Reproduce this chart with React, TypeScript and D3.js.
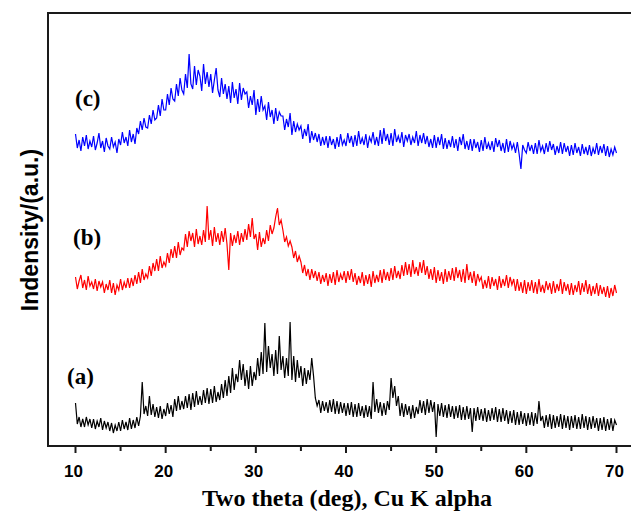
import React from 'react';
import * as d3 from 'd3';

// 2θ from 10° to 70° in 0.2° steps, one row of 5 readings per degree
const twoTheta: number[] = d3.range(301).map(i => 10 + i * 0.2);

// intensity (a.u.), traces offset as plotted
const sampleC: number[] = [
  312,298,306,295,309, 300,311,297,305,299, 310,296,303,313,298, 305,294,308,300,297, 309,299,304,293,307,
  301,314,303,309,300, 316,304,312,302,318, 312,325,316,328,319, 318,331,322,336,326, 328,341,330,347,336,
  336,352,341,358,347, 345,362,350,368,356, 352,372,358,392,362, 357,380,361,376,370, 355,382,362,374,359,
  372,353,366,378,356, 349,368,352,362,347, 360,343,364,348,357, 342,363,346,358,352, 354,338,350,341,356,
  331,347,334,350,336, 340,326,344,329,336, 322,338,325,334,330, 330,316,327,319,333, 311,325,314,322,316,
  320,307,317,310,322, 303,315,306,313,304, 312,300,309,301,310, 298,310,301,307,297, 309,299,312,301,306,
  300,313,303,310,299, 311,300,315,302,308, 301,312,298,309,304, 314,301,309,300,316, 302,318,305,312,301,
  313,300,317,304,310, 303,314,299,311,305, 312,301,309,303,315, 300,311,303,313,302, 310,299,307,298,311,
  298,309,301,312,297, 308,297,306,299,310, 298,307,295,309,301, 312,297,305,296,307, 295,307,298,304,294,
  306,295,309,297,303, 296,305,294,308,299, 306,295,303,293,307, 294,305,297,302,293, 304,292,277,301,296,
  293,304,295,301,292, 303,292,306,295,300, 292,303,294,305,296, 302,291,300,293,304, 292,303,294,300,290,
  301,291,303,293,299, 290,302,292,299,291, 301,290,298,292,303, 291,300,293,302,290, 300,289,297,291,299,
  293,
];

const sampleB: number[] = [
  169,157,165,171,158, 166,156,170,160,164, 157,167,155,165,159, 164,153,162,156,166, 153,163,151,161,156,
  167,156,164,158,168, 158,168,160,171,162, 174,163,177,166,172, 168,180,170,183,175, 187,175,190,178,184,
  180,193,183,197,188, 200,188,204,191,198, 196,212,199,215,205, 213,199,217,202,210, 201,216,204,240,206,
  216,200,219,204,213, 201,215,204,218,202, 176,213,200,211,203, 215,201,213,204,217, 206,222,209,228,207,
  212,196,214,199,208, 202,216,205,221,212, 218,229,238,221,226, 216,204,209,200,205, 199,188,195,184,190,
  184,173,181,170,177, 166,177,168,175,165, 174,162,171,164,173, 160,172,163,174,161, 176,164,172,166,175,
  163,175,166,177,164, 173,161,170,163,174, 160,171,162,172,159, 175,163,171,164,176, 163,177,166,174,165,
  178,166,180,168,175, 167,181,170,184,171, 182,169,186,172,179, 170,184,173,186,171, 180,167,177,166,179,
  163,176,165,174,162, 177,164,175,166,178, 165,179,168,176,164, 177,163,182,166,174, 163,175,160,172,165,
  169,157,166,158,170, 157,169,160,167,156, 170,158,167,160,171, 158,169,161,167,155, 167,155,164,153,166,
  152,164,155,166,153, 164,152,167,154,161, 153,165,156,163,152, 165,153,162,155,167, 152,164,155,162,151,
  163,151,161,154,165, 151,163,154,166,152, 162,150,160,152,163, 150,161,152,159,149, 160,148,158,150,161,
  153,
];

const sampleA: number[] = [
  43,22,29,19,27, 19,29,21,27,18, 27,17,25,19,28, 16,25,18,24,15, 23,13,21,15,24,
  15,26,17,24,16, 28,17,26,18,29, 20,30,64,32,40, 30,50,31,42,29, 39,28,40,27,37,
  30,43,32,41,29, 47,35,50,36,45, 37,50,38,52,36, 53,39,55,41,50, 41,56,43,58,42,
  57,43,60,44,54, 46,62,48,66,50, 70,53,78,56,72, 64,86,66,82,60, 76,57,80,60,74,
  66,88,70,94,72, 123,74,100,78,92, 70,96,72,110,76, 90,68,88,70,124, 66,90,64,86,68,
  80,60,78,62,76, 66,88,70,48,40, 46,33,45,35,44, 33,46,34,47,32, 45,32,44,33,43,
  30,43,31,44,29, 42,29,43,30,40, 28,41,29,40,27, 64,34,47,33,44, 30,43,31,45,36,
  68,48,60,40,50, 30,43,29,42,31, 40,27,41,28,39, 32,46,33,45,31, 47,33,46,34,44,
  9,42,30,43,29, 41,28,42,29,40, 27,40,28,41,26, 39,26,40,27,38, 14,38,25,39,26,
  37,25,38,24,36, 25,38,26,39,24, 37,24,38,25,36, 22,35,23,36,21, 34,21,35,22,33,
  20,33,21,34,20, 33,22,45,25,30, 18,31,19,32,17, 31,18,30,19,32, 17,31,18,30,16,
  30,18,31,17,29, 17,32,18,30,16, 29,17,30,18,28, 15,28,16,29,15, 27,16,28,15,26,
  21,
];

const seriesNames = ['(a)', '(b)', '(c)'];
const seriesColors = ['#000000', '#ff0000', '#0000ff'];
const xTicks = [10, 20, 30, 40, 50, 60, 70];
const xMinorTicks = [15, 25, 35, 45, 55, 65];

const W = 631;
const H = 513;
const frame = { left: 48, top: 13, bottom: 446 };

const App = () => {
  const x = d3.scaleLinear().domain([10, 70]).range([75.5, 616.5]);
  const y = d3.scaleLinear().domain([0, 433]).range([frame.bottom, frame.top]);

  const line = d3.line<number>()
    .x((d, i) => x(twoTheta[i]))
    .y(d => y(d));

  const series = [sampleA, sampleB, sampleC];
  const labelPos = [
    { x: 67, v: 62 },
    { x: 73, v: 201 },
    { x: 75, v: 340 },
  ];

  return (
    <svg width={W} height={H} style={{ position: 'absolute', left: 0, top: 0, background: '#fff' }}>
      {series.map((s, i) => (
        <path key={i} d={line(s) || ''} fill="none" stroke={seriesColors[i]} strokeWidth={1.2} />
      ))}

      {series.map((s, i) => (
        <text key={'l' + i} x={labelPos[i].x} y={y(labelPos[i].v)}
          fontFamily="'Liberation Serif', 'Times New Roman', serif" fontWeight="bold" fontSize={23}>
          {seriesNames[i]}
        </text>
      ))}

      {/* frame */}
      <path d={`M${W},${frame.top}H${frame.left}V${frame.bottom}H${W}`} fill="none" stroke="#1a1a1a" strokeWidth={2} />

      {xTicks.map(t => (
        <g key={t}>
          <line x1={x(t)} x2={x(t)} y1={frame.bottom} y2={frame.bottom + 7} stroke="#1a1a1a" strokeWidth={2} />
          <text x={x(t) - 2} y={frame.bottom + 31} textAnchor="middle"
            fontFamily="'Liberation Sans', Arial, sans-serif" fontWeight="bold" fontSize={17}>{t}</text>
        </g>
      ))}
      {xMinorTicks.map(t => (
        <line key={t} x1={x(t)} x2={x(t)} y1={frame.bottom} y2={frame.bottom + 5} stroke="#1a1a1a" strokeWidth={2} />
      ))}

      <text x={347} y={506} textAnchor="middle"
        fontFamily="'Liberation Serif', 'Times New Roman', serif" fontWeight="bold" fontSize={24}>
        Two theta (deg), Cu K alpha
      </text>

      <text transform="translate(38,230) rotate(-90)" textAnchor="middle"
        fontFamily="'Liberation Sans', Arial, sans-serif" fontWeight="bold" fontSize={23}>
        Indensity/(a.u.)
      </text>
    </svg>
  );
};

export default App;
